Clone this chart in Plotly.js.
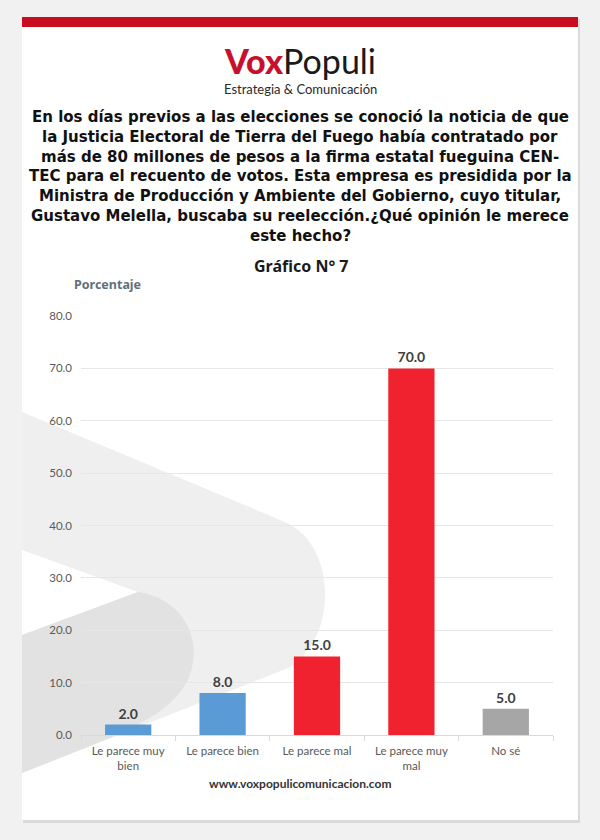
<!DOCTYPE html>
<html>
<head>
<meta charset="utf-8">
<script src="https://cdn.plot.ly/plotly-3.0.1.min.js"></script>
<style>
  html, body { margin: 0; padding: 0; background: #f1f1f1; }
  #chart { width: 600px; height: 840px; }
</style>
</head>
<body>
<div id="chart"></div>
<script>
// ---- data ----
const categories = ["Le parece muy<br>bien", "Le parece bien", "Le parece mal", "Le parece muy<br>mal", "No sé"];
const values = [2.0, 8.0, 15.0, 70.0, 5.0];
const barColors = ["#5b9bd5", "#5b9bd5", "#f1222f", "#f1222f", "#a6a6a6"];
const yTicks = [0, 10, 20, 30, 40, 50, 60, 70, 80];

const questionLines = [
  "En los días previos a las elecciones se conoció la noticia de que",
  "la Justicia Electoral de Tierra del Fuego había contratado por",
  "más de 80 millones de pesos a la firma estatal fueguina CEN-",
  "TEC para el recuento de votos. Esta empresa es presidida por la",
  "Ministra de Producción y Ambiente del Gobierno, cuyo titular,",
  "Gustavo Melella, buscaba su reelección.¿Qué opinión le merece",
  "este hecho?"
];

// ---- layout helpers (pixel -> paper coords) ----
const L = 81, R = 553, T = 316, B = 735;
const px = x => (x - L) / (R - L);
const py = y => (B - y) / (B - T);
const path = s => s.replace(/(-?\d+\.?\d*),(-?\d+\.?\d*)/g, (m, a, b) => px(+a).toFixed(4) + "," + py(+b).toFixed(4));

const shapes = [
  {type: "rect", xref: "paper", yref: "paper", layer: "below",
   x0: px(23), x1: px(580), y0: py(19), y1: py(823), fillcolor: "#dadada", line: {width: 0}},
  {type: "rect", xref: "paper", yref: "paper", layer: "below",
   x0: px(22), x1: px(578), y0: py(17), y1: py(820), fillcolor: "#ffffff", line: {width: 0}},
  {type: "rect", xref: "paper", yref: "paper", layer: "below",
   x0: px(22), x1: px(578), y0: py(17), y1: py(27), fillcolor: "#c90c1f", line: {width: 0}},
  {type: "path", xref: "paper", yref: "paper", layer: "below",
   path: path("M22,412 L285,522 C338,545 338,640 288,668 L22,773 L22,635 L138,592 L22,550 Z"),
   fillcolor: "#efefef", line: {width: 0}},
  {type: "path", xref: "paper", yref: "paper", layer: "below",
   path: path("M22,635 L138,592 C178,598 198,630 193,662 C188,700 150,720 110,738 L22,773 Z"),
   fillcolor: "#e2e2e2", line: {width: 0}}
];

const annotations = [
  {xref: "paper", yref: "paper", x: px(300), y: py(61), xanchor: "center", yanchor: "middle", showarrow: false,
   text: '<span style="color:#c8102e;font-weight:900">Vox</span>Populi',
   font: {family: "Lato, 'Open Sans', sans-serif", size: 34, color: "#1a1a1a"}},
  {xref: "paper", yref: "paper", x: px(300), y: py(89), xanchor: "center", yanchor: "middle", showarrow: false,
   text: "Estrategia &amp; Comunicación",
   font: {family: "Lato, 'Open Sans', sans-serif", size: 13, color: "#2a2a2a"}},
  {xref: "paper", yref: "paper", x: px(301), y: py(266), xanchor: "center", yanchor: "middle", showarrow: false,
   text: "<b>Gráfico N° 7</b>",
   font: {family: "'Noto Sans', sans-serif", size: 16, color: "#1a1a1a"}},
  {xref: "paper", yref: "paper", x: px(72), y: py(284), xanchor: "left", yanchor: "middle", showarrow: false,
   text: "<b>Porcentaje</b>",
   font: {family: "'Noto Sans', sans-serif", size: 12.5, color: "#5f6f80"}},
  {xref: "paper", yref: "paper", x: px(300), y: py(783), xanchor: "center", yanchor: "middle", showarrow: false,
   text: "<b>www.voxpopulicomunicacion.com</b>",
   font: {family: "Lato, 'Open Sans', sans-serif", size: 12, color: "#333333"}}
];

questionLines.forEach((line, i) => {
  annotations.push({xref: "paper", yref: "paper", x: px(300), y: py(117 + i * 19.8),
    xanchor: "center", yanchor: "middle", showarrow: false,
    text: "<b>" + line + "</b>",
    font: {family: "'DejaVu Sans', sans-serif", size: 15, color: "#111111"}});
});

const trace = {
  type: "bar",
  x: categories,
  y: values,
  marker: {color: barColors, line: {width: 0}},
  texttemplate: "%{y:.1f}",
  textposition: "outside",
  cliponaxis: false,
  textfont: {family: "Lato, 'Open Sans', sans-serif", size: 14, color: "#404040", weight: "bold"},
  hoverinfo: "skip"
};

const layout = {
  width: 600, height: 840,
  margin: {l: L, r: 600 - R, t: T, b: 840 - B, pad: 0},
  paper_bgcolor: "#f1f1f1",
  plot_bgcolor: "rgba(0,0,0,0)",
  showlegend: false,
  bargap: 0.51,
  xaxis: {
    type: "category",
    showline: true, linecolor: "#d9d9d9", linewidth: 1,
    ticks: "outside", tickson: "boundaries", ticklen: 5, tickcolor: "#d9d9d9",
    ticklabelstandoff: 5,
    tickfont: {family: "Lato, 'Open Sans', sans-serif", size: 11.5, color: "#595959"},
    showgrid: false, fixedrange: true
  },
  yaxis: {
    range: [0, 80], tickvals: yTicks, tickformat: ".1f",
    showgrid: true, gridcolor: "#e6e6e6", gridwidth: 1,
    zeroline: false, showline: false, ticks: "",
    ticklabelstandoff: 8,
    tickfont: {family: "Lato, 'Open Sans', sans-serif", size: 11.5, color: "#595959"},
    fixedrange: true
  },
  shapes: shapes,
  annotations: annotations
};

Plotly.newPlot("chart", [trace], layout, {displayModeBar: false, staticPlot: true});
</script>
</body>
</html>
